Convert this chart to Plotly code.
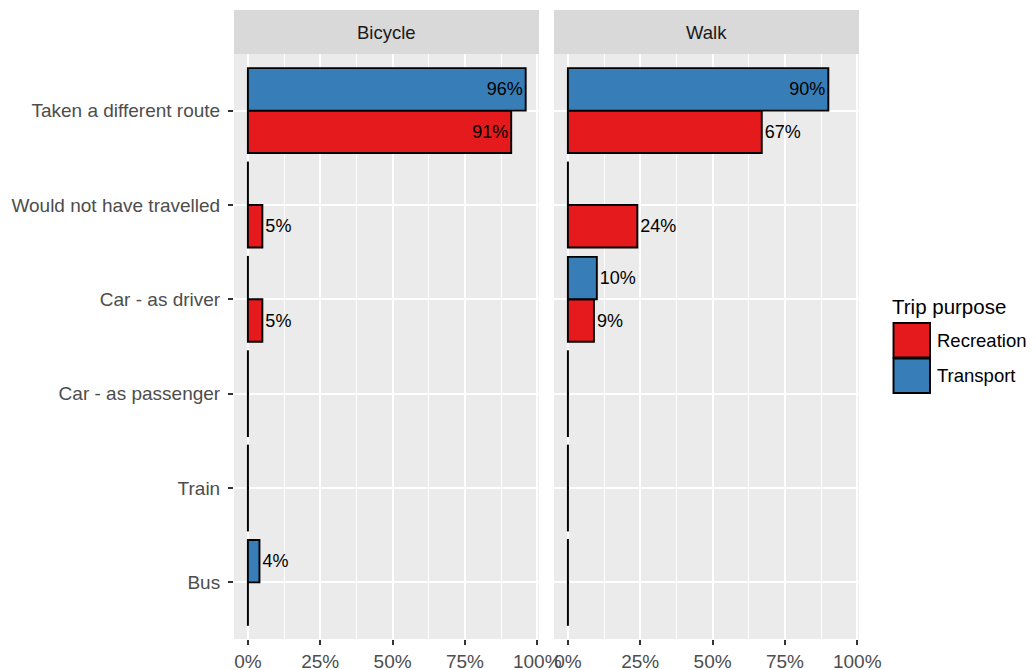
import plotly.graph_objects as go

# categories (top to bottom) and values (%)
categories = ["Taken a different route", "Would not have travelled", "Car - as driver",
              "Car - as passenger", "Train", "Bus"]
purposes = ["Recreation", "Transport"]
facets = ["Bicycle", "Walk"]

bicycle_recreation = [91, 5, 5, 0, 0, 0]
bicycle_transport = [96, 0, 0, 0, 0, 4]
walk_recreation = [67, 24, 9, 0, 0, 0]
walk_transport = [90, 0, 10, 0, 0, 0]

x_ticks = [0, 25, 50, 75, 100]
x_tick_labels = ["0%", "25%", "50%", "75%", "100%"]

colors = {"Recreation": "#E41A1C", "Transport": "#377EB8"}
FONT = "Liberation Sans, Arial, sans-serif"

# the page body has an 8px margin, so the figure is drawn 8px in from the window corner
OFF = 8
W, H = 1036 - OFF, 670 - OFF


def px(x):
    return (x - OFF) / W


def py(y):
    return 1 - (y - OFF) / H


panel_x = [(234, 539), (554, 859)]
panel_y = (54, 639)
data = {
    "Bicycle": {"Recreation": bicycle_recreation, "Transport": bicycle_transport},
    "Walk": {"Recreation": walk_recreation, "Transport": walk_transport},
}

fig = go.Figure()

for i, facet in enumerate(facets):
    xa = "x" if i == 0 else "x2"
    ya = "y" if i == 0 else "y2"
    for purpose in purposes:
        vals = data[facet][purpose]
        fig.add_trace(go.Bar(
            y=categories,
            # zero-valued bars are still drawn as a thin outline, as in the reference
            x=[v if v > 0 else 0.02 for v in vals],
            orientation="h",
            xaxis=xa, yaxis=ya,
            name=purpose,
            showlegend=False,
            marker=dict(color=colors[purpose], line=dict(color="black", width=1.9)),
            text=[f"{v}%" if v > 0 else "" for v in vals],
            textposition=["inside" if v >= 80 else ("outside" if v > 0 else "none") for v in vals],
            insidetextanchor="end",
            textfont=dict(color="black", size=18, family=FONT),
            constraintext="none",
            cliponaxis=False,
            customdata=vals,
            hovertemplate="<b>" + purpose + "</b>: %{customdata}%<extra>" + facet + "</extra>",
        ))

axis_common = dict(
    showline=False, zeroline=False, automargin=False,
    ticks="outside", ticklen=5, tickwidth=1.5, tickcolor="#333333",
    tickfont=dict(family=FONT, size=19, color="#4D4D4D"),
    showgrid=True, gridcolor="white", gridwidth=2,
)

xaxis_common = dict(
    axis_common,
    range=[-4.8, 100.6],
    tickvals=x_ticks, ticktext=x_tick_labels,
    ticklabelstandoff=0,
    minor=dict(dtick=12.5, tick0=0, showgrid=True, gridcolor="white", gridwidth=1, ticks=""),
)

yaxis_common = dict(
    axis_common,
    type="category",
    categoryorder="array",
    categoryarray=categories[::-1],
    range=[-0.6, len(categories) - 0.4],
    domain=[py(panel_y[1]), py(panel_y[0])],
)

fig.update_layout(
    width=W, height=H,
    margin=dict(l=0, r=0, t=0, b=0),
    paper_bgcolor="white",
    plot_bgcolor="#EBEBEB",
    barmode="group",
    bargap=0.1,
    bargroupgap=0,
    showlegend=False,
    xaxis=dict(xaxis_common, domain=[px(panel_x[0][0]), px(panel_x[0][1])], anchor="y"),
    xaxis2=dict(xaxis_common, domain=[px(panel_x[1][0]), px(panel_x[1][1])], anchor="y2"),
    yaxis=dict(yaxis_common, anchor="x", ticklabelstandoff=4),
    yaxis2=dict(yaxis_common, anchor="x2", showticklabels=False, ticks=""),
    font=dict(family=FONT),
)

# facet strips
shapes = []
annotations = []
for i, facet in enumerate(facets):
    x0, x1 = panel_x[i]
    shapes.append(dict(type="rect", xref="paper", yref="paper",
                       x0=px(x0), x1=px(x1), y0=py(54), y1=py(10),
                       fillcolor="#D9D9D9", line=dict(width=0), layer="below"))
    annotations.append(dict(xref="paper", yref="paper", x=px((x0 + x1) / 2), y=py(32),
                            text=facet, showarrow=False, xanchor="center", yanchor="middle",
                            font=dict(family=FONT, size=18.5, color="#1A1A1A")))

# legend drawn ggplot-style
annotations.append(dict(xref="paper", yref="paper", x=px(890), y=py(306),
                        text="Trip purpose", showarrow=False, xanchor="left", yanchor="middle",
                        font=dict(family=FONT, size=20.5, color="black")))
key_rows = [(323, 357.5), (358.5, 393)]
for purpose, (k0, k1) in zip(purposes, key_rows):
    shapes.append(dict(type="rect", xref="paper", yref="paper",
                       x0=px(893.5), x1=px(930), y0=py(k1), y1=py(k0),
                       fillcolor=colors[purpose], line=dict(color="black", width=1.9)))
    annotations.append(dict(xref="paper", yref="paper", x=px(935), y=py((k0 + k1) / 2),
                            text=purpose, showarrow=False, xanchor="left", yanchor="middle",
                            font=dict(family=FONT, size=18.5, color="black")))

fig.update_layout(shapes=shapes, annotations=annotations)

fig.write_html("out.html")
